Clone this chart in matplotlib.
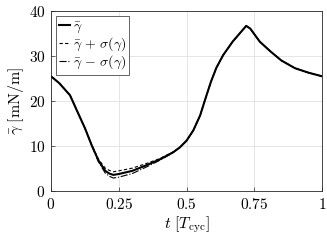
import numpy as np
import matplotlib
matplotlib.use("Agg")
import matplotlib.pyplot as plt

plt.rcParams["font.family"] = "serif"
plt.rcParams["font.serif"] = ["DejaVu Serif"]
plt.rcParams["mathtext.fontset"] = "cm"

# =========================
# data
# =========================
t = [0.0, 0.03, 0.07, 0.1, 0.125, 0.15, 0.175, 0.2, 0.215, 0.23, 0.25, 0.3,
     0.35, 0.4, 0.45, 0.475, 0.5, 0.525, 0.55, 0.57, 0.59, 0.61, 0.635, 0.67,
     0.7, 0.72, 0.735, 0.77, 0.81, 0.85, 0.9, 0.95, 1.0]
g_mean = [25.5, 24.0, 21.3, 17.3, 14.0, 10.2, 6.8, 4.5, 3.9, 3.6, 3.8, 4.5,
          5.7, 7.0, 8.6, 9.7, 11.2, 13.5, 16.8, 20.6, 24.3, 27.4, 30.2, 33.2,
          35.3, 36.7, 36.1, 33.2, 31.0, 29.0, 27.3, 26.3, 25.5]
g_upper = [25.5, 24.0, 21.3, 17.3, 14.0, 10.3, 7.1, 5.1, 4.6, 4.3, 4.5, 5.1,
           6.1, 7.2, 8.7, 9.7, 11.2, 13.5, 16.8, 20.6, 24.3, 27.4, 30.2, 33.2,
           35.3, 36.7, 36.1, 33.2, 31.0, 29.0, 27.3, 26.3, 25.5]
g_lower = [25.5, 24.0, 21.3, 17.3, 14.0, 10.1, 6.5, 4.0, 3.3, 2.9, 3.1, 3.9,
           5.3, 6.8, 8.5, 9.7, 11.2, 13.5, 16.8, 20.6, 24.3, 27.4, 30.2, 33.2,
           35.3, 36.7, 36.1, 33.2, 31.0, 29.0, 27.3, 26.3, 25.5]

x_ticks = [0, 0.25, 0.5, 0.75, 1]
x_tick_labels = ["$0$", "$0.25$", "$0.5$", "$0.75$", "$1$"]
y_ticks = [0, 10, 20, 30, 40]
y_tick_labels = ["$0$", "$10$", "$20$", "$30$", "$40$"]

# =========================
# plot
# =========================
fig = plt.figure(figsize=(3.27, 2.45), dpi=100)
ax = fig.add_axes([0.156, 0.22, 0.829, 0.735])

ax.plot(t, g_mean, color="black", linewidth=1.5, label=r"$\bar{\gamma}$")
ax.plot(t, g_upper, color="black", linewidth=0.8, linestyle="--",
        dashes=(3, 2), label=r"$\bar{\gamma}\,+\,\sigma(\gamma)$")
ax.plot(t, g_lower, color="black", linewidth=0.8, linestyle="-.",
        label=r"$\bar{\gamma}\,-\,\sigma(\gamma)$")

ax.set_xlim(0, 1)
ax.set_ylim(0, 40)
ax.set_xticks(x_ticks)
ax.set_xticklabels(x_tick_labels, fontsize=11)
ax.set_yticks(y_ticks)
ax.set_yticklabels(y_tick_labels, fontsize=11)
ax.tick_params(direction="in", length=3, width=0.5, color="#262626", pad=4)
ax.grid(True, color="#e0e0e0", linewidth=0.6)
ax.set_axisbelow(True)
for s in ax.spines.values():
    s.set_linewidth(0.6)
    s.set_color("#262626")

ax.set_xlabel(r"$t\ [T_{\mathrm{cyc}}]$", fontsize=11.5, labelpad=2)
ax.set_ylabel(r"$\bar{\gamma}\ [\mathrm{mN/m}]$", fontsize=11.5, labelpad=2)

leg = ax.legend(loc="upper left", fontsize=10, handlelength=0.8,
                handletextpad=0.15, borderpad=0.25, labelspacing=0.0,
                borderaxespad=0.35, fancybox=False, framealpha=1)
leg.get_frame().set_edgecolor("#262626")
leg.get_frame().set_linewidth(0.5)

fig.savefig("out.png", dpi=100)
